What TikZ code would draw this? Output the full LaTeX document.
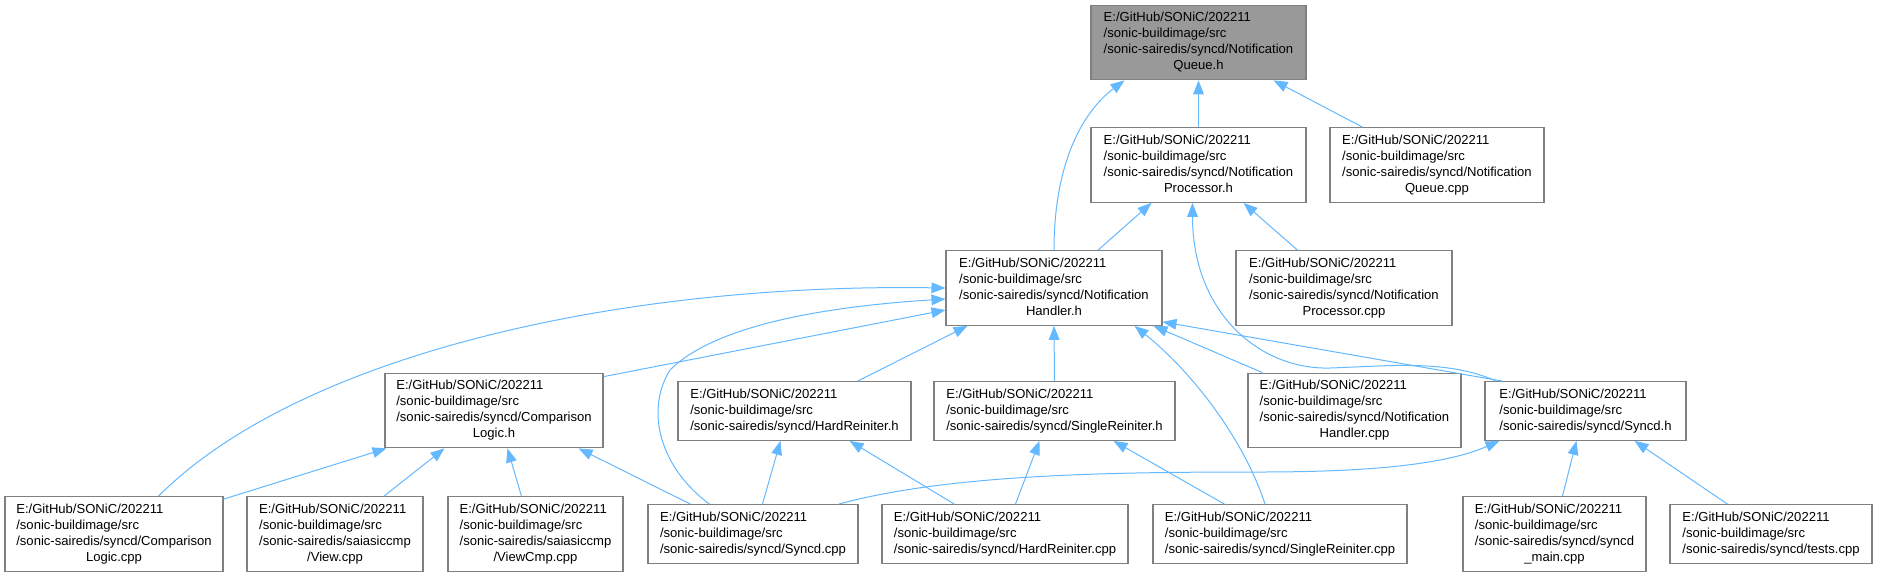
\documentclass[tikz,border=0pt]{standalone}
\usepackage{fontspec}
\setmainfont{Liberation Sans}
\usepackage{xcolor}
\usetikzlibrary{arrows.meta, calc}

\definecolor{edgeblue}{HTML}{63B8FF}
\definecolor{boxgray}{HTML}{808080}
\definecolor{rootgray}{HTML}{999999}

% file labels: three left lines, optional centred last line
\newcommand{\fourln}[2]{\begin{tabular}{@{}l@{}}E:/GitHub/SONiC/202211\\/sonic-buildimage/src\\#1\\\multicolumn{1}{@{}c@{}}{#2}\end{tabular}}
\newcommand{\threeln}[1]{\begin{tabular}{@{}l@{}}E:/GitHub/SONiC/202211\\/sonic-buildimage/src\\#1\end{tabular}}

\begin{document}
\begin{tikzpicture}[
    x=0.75pt, y=-0.75pt,
    box/.style={rectangle, draw=boxgray, line width=0.8pt, fill=white, inner xsep=0pt, inner ysep=4pt, font=\fontsize{9.8}{12}\selectfont},
    root/.style={box, fill=rootgray},
    arrow/.style={-{Triangle[length=10.5pt, width=8pt]}, draw=edgeblue, line width=0.75pt}
]
\useasboundingbox (0,0) rectangle (1878,576);

% top rows
\node[root, minimum width=161.25pt] (qh) at (1198.5,42.5) {\fourln{/sonic-sairedis/syncd/Notification}{Queue.h}};
\node[box, minimum width=161.25pt] (ph) at (1198.5,165) {\fourln{/sonic-sairedis/syncd/Notification}{Processor.h}};
\node[box, minimum width=160.5pt] (qc) at (1437,165) {\fourln{/sonic-sairedis/syncd/Notification}{Queue.cpp}};
\node[box, minimum width=162pt] (hh) at (1054,288) {\fourln{/sonic-sairedis/syncd/Notification}{Handler.h}};
\node[box, minimum width=162pt] (pc) at (1344,288) {\fourln{/sonic-sairedis/syncd/Notification}{Processor.cpp}};

% middle row
\node[box, minimum width=163.5pt] (clh) at (494,410.5) {\fourln{/sonic-sairedis/syncd/Comparison}{Logic.h}};
\node[box, minimum width=174.75pt] (hrh) at (794.5,411) {\threeln{/sonic-sairedis/syncd/HardReiniter.h}};
\node[box, minimum width=180.75pt] (srh) at (1054.5,411) {\threeln{/sonic-sairedis/syncd/SingleReiniter.h}};
\node[box, minimum width=159.75pt] (nhc) at (1354.5,410.5) {\fourln{/sonic-sairedis/syncd/Notification}{Handler.cpp}};
\node[box, minimum width=150.75pt] (sh) at (1585.5,411) {\threeln{/sonic-sairedis/syncd/Syncd.h}};

% bottom row
\node[box, minimum width=163.5pt] (clc) at (114,534) {\fourln{/sonic-sairedis/syncd/Comparison}{Logic.cpp}};
\node[box, minimum width=132pt] (vc) at (335,534) {\fourln{/sonic-sairedis/saiasiccmp}{/View.cpp}};
\node[box, minimum width=131.25pt] (vcc) at (535.5,534) {\fourln{/sonic-sairedis/saiasiccmp}{/ViewCmp.cpp}};
\node[box, minimum width=157.5pt] (sc) at (753,534) {\threeln{/sonic-sairedis/syncd/Syncd.cpp}};
\node[box, minimum width=184.5pt] (hrc) at (1005,534) {\threeln{/sonic-sairedis/syncd/HardReiniter.cpp}};
\node[box, minimum width=190.5pt] (src) at (1280,534) {\threeln{/sonic-sairedis/syncd/SingleReiniter.cpp}};
\node[box, minimum width=137.25pt] (smc) at (1554.5,534) {\fourln{/sonic-sairedis/syncd/syncd}{\_main.cpp}};
\node[box, minimum width=151.5pt] (tc) at (1771,534) {\threeln{/sonic-sairedis/syncd/tests.cpp}};

% includes of NotificationQueue.h
\draw[arrow] (ph.north) -- (qh.south);
\draw[arrow] ($(qc.north west)+(33,0)$) -- ($(qh.south east)+(-33,0)$);
\draw[arrow] (hh.north) .. controls +(0,-90) and +(-40,30) .. ($(qh.south west)+(34,0)$);

% includes of NotificationProcessor.h
\draw[arrow] ($(hh.north)+(44,0)$) -- ($(ph.south west)+(61,0)$);
\draw[arrow] ($(pc.north west)+(62,0)$) -- ($(ph.south east)+(-63,0)$);
\draw[arrow] ($(sh.north west)+(12,0)$) .. controls +(-50,-22) and +(60,-2) .. (1330,368)
    .. controls +(-70,2) and +(0,110) .. ($(ph.south)+(-6,0)$);

% includes of NotificationHandler.h
\draw[arrow] ($(sh.north west)+(18,0)$) -- ($(hh.south east)+(0,-4)$);
\draw[arrow] ($(clc.north west)+(154,0)$) .. controls +(140,-140) and +(-330,-5) .. (hh.west);
\draw[arrow] ($(sc.north west)+(62,0)$) .. controls +(-50,-37) and +(-25,40) .. (670,370)
    .. controls +(50,-50) and +(-96,6) .. ($(hh.west)+(0,11)$);
\draw[arrow] ($(clh.north east)+(0,4)$) -- ($(hh.west)+(0,22)$);
\draw[arrow] ($(hrh.north east)+(-54,0)$) -- ($(hh.south west)+(22,0)$);
\draw[arrow] (srh.north) -- (hh.south);
\draw[arrow] ($(src.north)+(-15,0)$) .. controls +(-20,-62) and +(60,48) .. ($(hh.south east)+(-28,0)$);
\draw[arrow] ($(nhc.north west)+(15,0)$) -- ($(hh.south east)+(-9,0)$);

% includes of ComparisonLogic.h
\draw[arrow] ($(clc.north east)+(0,3)$) -- ($(clh.south west)+(2,0)$);
\draw[arrow] ($(vc.north)+(49,0)$) -- ($(clh.south west)+(60,0)$);
\draw[arrow] ($(vcc.north west)+(74,0)$) -- ($(clh.south west)+(123,0)$);
\draw[arrow] ($(sc.north west)+(43,0)$) -- ($(clh.south east)+(-25,0)$);

% includes of the reiniters
\draw[arrow] ($(sc.north west)+(115,0)$) -- ($(hrh.south west)+(103,0)$);
\draw[arrow] ($(hrc.north west)+(73,0)$) -- ($(hrh.south east)+(-62,0)$);
\draw[arrow] ($(hrc.north west)+(134,0)$) -- ($(srh.south west)+(106,0)$);
\draw[arrow] ($(src.north west)+(72,0)$) -- ($(srh.south east)+(-62,0)$);

% includes of Syncd.h
\draw[arrow] ($(sc.north east)+(-20,0)$) .. controls +(110,-30) and +(-150,0) .. (1260,472)
    .. controls +(120,0) and +(-50,22) .. ($(sh.south west)+(15,0)$);
\draw[arrow] ($(smc.north west)+(100,0)$) -- ($(sh.south west)+(92,0)$);
\draw[arrow] ($(tc.north west)+(58,0)$) -- ($(sh.south east)+(-52,0)$);

\end{tikzpicture}
\end{document}
